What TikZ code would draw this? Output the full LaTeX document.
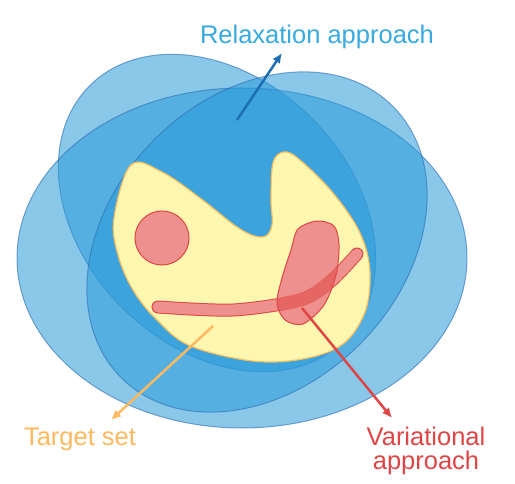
\documentclass[tikz,border=0pt]{standalone}
\usepackage{fontspec}
\setmainfont{Liberation Sans}
\usetikzlibrary{arrows.meta}

\definecolor{relaxfill}{RGB}{42,154,216}
\definecolor{relaxline}{RGB}{45,110,180}
\definecolor{relaxtext}{RGB}{55,170,225}
\definecolor{relaxarrow}{RGB}{30,110,180}
\definecolor{targetfill}{RGB}{255,246,176}
\definecolor{targetline}{RGB}{250,190,95}
\definecolor{targettext}{RGB}{252,185,95}
\definecolor{varfill}{RGB}{238,145,142}
\definecolor{vardark}{RGB}{230,102,100}
\definecolor{varline}{RGB}{222,70,70}

\tikzset{
  relaxset/.style={fill=relaxfill, fill opacity=0.55, draw=relaxline, draw opacity=0.6, line width=1pt},
  varset/.style={fill=varfill, draw=varline, line width=1pt},
  pointer/.style={line width=2.5pt, -{Latex[length=10pt, width=9pt]}},
  label/.style={font=\fontsize{25.5}{24}\selectfont, inner sep=0pt, align=center}
}

\def\blobpts{(317,221) (334,226) (339,245) (336,275) (324,305) (303,324) (285,320)
  (277,303) (282,278) (291,250) (298,229)}
\def\stripepts{(158,307) (233,310) (300,300) (330,282) (357,254)}

\begin{document}
\begin{tikzpicture}[x=1pt, y=-1pt]

\path [use as bounding box] (0,0) rectangle (515,484);

% RELAXATION SETS
\path [relaxset, rotate around={-45:(217,213)}] (217,213) ellipse [x radius=180, y radius=134];
\path [relaxset] (242,258) ellipse [x radius=225, y radius=170];
\path [relaxset, rotate around={45:(257,242)}] (257,242) ellipse [x radius=192, y radius=145];

% TARGET SET
\draw [fill=targetfill, draw=targetline, line width=1.2pt] plot [smooth cycle, tension=0.6] coordinates {
  (131,165) (162,172) (200,198) (240,229) (263,237) (272,225) (271,200)
  (273,163) (284,152) (300,160) (333,193) (360,233) (370,273) (363,317)
  (333,350) (267,362) (193,347) (157,320) (133,290) (118,255) (114,218)};

% VARIATIONAL SETS
\draw [varset] (162,238) circle [radius=27];
\path [fill=varfill] plot [smooth cycle] coordinates {\blobpts};
\draw [line width=13pt, line cap=round, varline] plot [smooth] coordinates {\stripepts};
\draw [line width=11pt, line cap=round, varfill] plot [smooth] coordinates {\stripepts};
\begin{scope}
  \clip plot [smooth cycle] coordinates {\blobpts};
  \draw [line width=13pt, line cap=round, vardark] plot [smooth] coordinates {\stripepts};
\end{scope}
\draw [varline, line width=1pt] plot [smooth cycle] coordinates {\blobpts};

% LABELS
\node [label, text=relaxtext] (relax) at (317,37) {Relaxation approach};
\node [label, text=targettext] (target) at (80,439) {Target set};
\node [label, text=varline] (variational) at (426,451) {Variational\\approach};

% POINTERS
\coordinate (relaxfrom) at (237,120);
\coordinate (relaxto) at (282,53);
\coordinate (targetfrom) at (213,326);
\coordinate (targetto) at (111,420);
\coordinate (varfrom) at (302,308);
\coordinate (varto) at (392,418);
\draw [pointer, relaxarrow] (relaxfrom) -- (relaxto);
\draw [pointer, targettext] (targetfrom) -- (targetto);
\draw [pointer, varline] (varfrom) -- (varto);

\end{tikzpicture}
\end{document}
